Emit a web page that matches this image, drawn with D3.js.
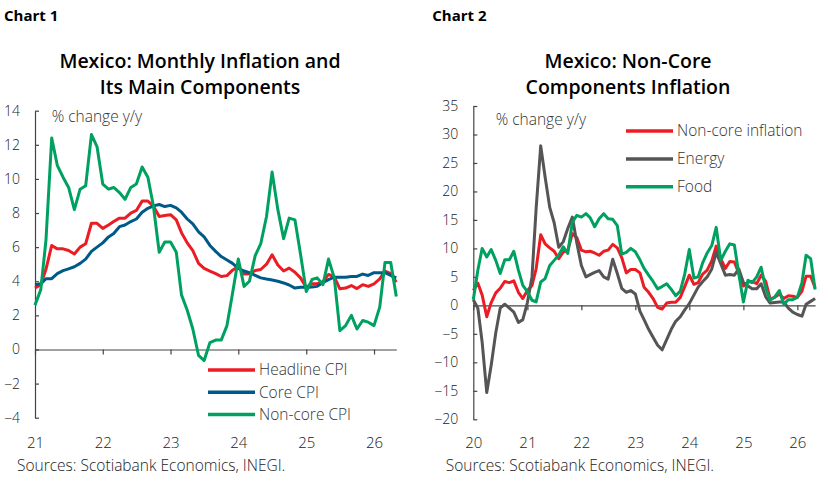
<!DOCTYPE html>
<html>
<head>
<meta charset="utf-8">
<script src="https://cdn.jsdelivr.net/npm/d3@7"></script>
<style>
  body { margin: 0; background: #fff; }
  svg { display: block; }
  text { font-family: "Open Sans", sans-serif; }
</style>
</head>
<body>
<div id="chart"></div>
<script>
// monthly observations, Jan 2020 - May 2026
const months = d3.timeMonth.range(new Date(2020, 0, 1), new Date(2026, 5, 1));

const nonCore = [
    2.6, 3.9, 1.8, -2.0, 0.5, 2.2, 3.0, 4.2, 4.0, 4.3, 2.3, 1.2,
    2.6, 3.5, 6.4, 12.4, 10.8, 10.1, 9.5, 8.2, 9.4, 9.6, 12.6, 11.9,
    9.7, 9.4, 9.5, 9.2, 8.8, 9.5, 9.7, 10.7, 10.1, 8.4, 5.7, 6.3,
    6.3, 5.7, 3.2, 2.3, 1.2, -0.35, -0.65, 0.4, 0.55, 0.55, 1.4, 3.3,
    5.3, 3.7, 4.0, 5.5, 6.2, 7.8, 10.4, 8.2, 6.5, 7.7, 7.6, 5.6,
    3.4, 4.1, 4.2, 3.8, 5.3, 4.2, 1.1, 1.4, 2.0, 1.2, 1.7, 1.6,
    1.4, 2.5, 5.1, 5.1, 3.1
];
const energy = [
    1.0, -0.5, -6.5, -15.3, -10.5, -4.8, -0.5, 0.2, -0.5, -1.2, -3.0, -2.5,
    0.5, 5.0, 17.0, 28.0, 22.5, 17.2, 14.5, 10.2, 11.2, 13.5, 15.5, 11.0,
    7.0, 5.0, 5.4, 5.8, 6.1, 5.0, 4.6, 8.1, 5.6, 3.0, 2.3, 2.6,
    2.0, -1.0, -2.5, -4.2, -5.6, -7.0, -7.8, -6.0, -4.2, -2.8, -2.0, -0.8,
    0.3, 1.8, 3.2, 4.2, 5.0, 6.4, 9.3, 7.3, 5.3, 5.4, 5.3, 6.4,
    4.0, 3.4, 2.9, 2.9, 3.8, 1.5, 0.4, 0.5, 0.6, 0.6, -0.5, -1.2,
    -1.6, -1.9, 0.2, 0.7, 1.2
];
const food = [
    1.0, 6.2, 10.0, 8.5, 9.8, 7.9, 5.6, 8.0, 8.0, 9.5, 6.2, 3.5,
    2.4, 0.9, 0.6, 4.1, 4.7, 7.0, 7.9, 8.8, 10.3, 9.1, 14.6, 15.8,
    15.5, 16.1, 15.4, 13.8, 15.2, 16.1, 15.2, 15.1, 14.0, 9.0, 9.3, 10.0,
    9.4, 8.0, 6.5, 5.3, 4.2, 2.9, 3.3, 3.8, 2.8, 1.7, 2.5, 5.5,
    9.8, 4.8, 5.0, 7.5, 9.2, 10.5, 13.7, 7.9, 9.5, 10.8, 10.6, 5.5,
    0.6, 4.4, 4.0, 5.0, 6.7, 3.0, 0.9, 1.5, 2.6, 0.2, 1.0, 1.0,
    1.4, 4.0, 8.8, 8.2, 2.8
];
// Jan 2021 - May 2026
const headline = [
    3.6, 3.8, 4.7, 6.1, 5.9, 5.9, 5.8, 5.6, 6.0, 6.2, 7.4, 7.4,
    7.1, 7.3, 7.5, 7.7, 7.7, 8.0, 8.15, 8.7, 8.7, 8.4, 7.8, 7.85,
    7.9, 7.6, 6.85, 6.25, 5.8, 5.05, 4.75, 4.6, 4.45, 4.28, 4.33, 4.65,
    4.87, 4.42, 4.44, 4.63, 4.69, 5.0, 5.55, 4.95, 4.6, 4.77, 4.53, 4.2,
    3.65, 3.85, 3.85, 3.98, 4.4, 4.26, 3.56, 3.6, 3.75, 3.57, 3.8, 3.7,
    3.85, 4.14, 4.6, 4.45, 3.95
];
const core = [
    3.8, 3.85, 4.15, 4.15, 4.45, 4.62, 4.73, 4.85, 5.05, 5.3, 5.75, 6.0,
    6.25, 6.6, 6.8, 7.2, 7.3, 7.5, 7.65, 8.05, 8.28, 8.42, 8.5, 8.38,
    8.45, 8.3, 8.05, 7.65, 7.36, 6.9, 6.6, 6.1, 5.75, 5.45, 5.25, 5.05,
    4.76, 4.6, 4.5, 4.35, 4.2, 4.13, 4.07, 4.0, 3.9, 3.78, 3.6, 3.65,
    3.65, 3.67, 3.7, 3.93, 4.1, 4.24, 4.24, 4.24, 4.28, 4.28, 4.42, 4.34,
    4.5, 4.5, 4.5, 4.34, 4.2
];

const yTicks1 = [-4, -2, 0, 2, 4, 6, 8, 10, 12, 14];
const yTicks2 = [-20, -15, -10, -5, 0, 5, 10, 15, 20, 25, 30, 35];

const red = '#ec1c24';
const blue = '#005a87';
const green = '#00a160';
const grey = '#555555';

const svg = d3.select('#chart')
    .append('svg')
    .attr('width', 828)
    .attr('height', 483);

const series = (values, from) => values.map((v, i) => ({date: months[i + from], v}));
const from2021 = 12;

function drawChart(o) {
    const x = d3.scaleTime().domain(o.xDomain).range(o.xRange);
    const y = d3.scaleLinear().domain(o.yDomain).range(o.yRange);
    const g = svg.append('g');

    // y axis, ticks point inward
    const ya = g.append('g')
        .attr('transform', `translate(${o.xRange[0]},0)`)
        .call(d3.axisLeft(y).tickValues(o.yTicks).tickSizeInner(-4).tickSizeOuter(0).tickPadding(15));
    ya.selectAll('text').style('font-size', '14px').style('font-weight', 300).style('fill', '#222');

    // zero line with year ticks
    g.append('g')
        .attr('transform', `translate(0,${y(0)})`)
        .call(d3.axisBottom(x).ticks(d3.timeYear).tickSize(5).tickSizeOuter(0).tickFormat(''));

    // year labels along the bottom
    const xl = g.append('g')
        .attr('transform', `translate(0,${o.labelY})`)
        .call(d3.axisBottom(x).ticks(d3.timeYear).tickSize(0).tickFormat(d3.timeFormat('%y')));
    xl.select('.domain').remove();
    xl.selectAll('text').style('font-size', '15px').style('font-weight', 300).style('fill', '#222');

    g.selectAll('.domain, .tick line').attr('stroke', '#444').attr('stroke-width', 1.2);

    const line = d3.line().x(d => x(d.date)).y(d => y(d.v));
    o.lines.forEach(s => {
        g.append('path')
            .datum(s.data)
            .attr('fill', 'none')
            .attr('stroke', s.color)
            .attr('stroke-width', 3)
            .attr('stroke-linejoin', 'round')
            .attr('d', line);
    });

    // legend
    o.lines.forEach((s, i) => {
        const ly = o.legend.y + i * o.legend.step;
        g.append('line')
            .attr('x1', o.legend.x).attr('x2', o.legend.x + 47)
            .attr('y1', ly).attr('y2', ly)
            .attr('stroke', s.color).attr('stroke-width', 3.5);
        g.append('text')
            .attr('x', o.legend.x + 51).attr('y', ly)
            .attr('dy', '0.35em')
            .style('font-size', '15.5px').style('font-weight', 300).style('fill', '#333')
            .text(s.name);
    });

    g.append('text')
        .attr('x', o.unitX).attr('y', o.unitY)
        .style('font-size', '15.5px').style('font-weight', 300).style('fill', '#333')
        .text('% change y/y');

    //titles
    g.append('text')
        .attr('x', o.chartX).attr('y', 21)
        .style('font-size', '15px').style('font-weight', 700)
        .text(o.chartLabel);

    o.title.forEach((t, i) => {
        g.append('text')
            .attr('x', o.titleX).attr('y', 68 + i * 25.5)
            .attr('text-anchor', 'middle')
            .style('font-size', '19.5px').style('font-weight', 600)
            .text(t);
    });

    g.append('text')
        .attr('x', o.sourceX).attr('y', 471)
        .style('font-size', '15.5px').style('font-weight', 300).style('fill', '#222')
        .text('Sources: Scotiabank Economics, INEGI.');
}

drawChart({
    xDomain: [new Date(2021, 0, 1), new Date(2026, 4, 1)],
    xRange: [35, 396.3],
    yDomain: [-4, 14],
    yRange: [417.7, 110.7],
    yTicks: yTicks1,
    labelY: 434,
    lines: [
        {name: 'Headline CPI', color: red, data: series(headline, from2021)},
        {name: 'Core CPI', color: blue, data: series(core, from2021)},
        {name: 'Non-core CPI', color: green, data: series(nonCore.slice(from2021), from2021)}
    ],
    legend: {x: 208, y: 370, step: 22.2},
    unitX: 51.7, unitY: 121.5,
    chartX: 4, chartLabel: 'Chart 1',
    titleX: 200, title: ['Mexico: Monthly Inflation and', 'Its Main Components'],
    sourceX: 17
});

drawChart({
    xDomain: [new Date(2020, 0, 1), new Date(2026, 4, 1)],
    xRange: [473.3, 815.1],
    yDomain: [-20, 35],
    yRange: [419.3, 106],
    yTicks: yTicks2,
    labelY: 434,
    lines: [
        {name: 'Non-core inflation', color: red, data: series(nonCore, 0)},
        {name: 'Energy', color: grey, data: series(energy, 0)},
        {name: 'Food', color: green, data: series(food, 0)}
    ],
    legend: {x: 626, y: 131, step: 27.9},
    unitX: 495.7, unitY: 125,
    chartX: 432.3, chartLabel: 'Chart 2',
    titleX: 628, title: ['Mexico: Non-Core', 'Components Inflation'],
    sourceX: 445.7
});
</script>
</body>
</html>
